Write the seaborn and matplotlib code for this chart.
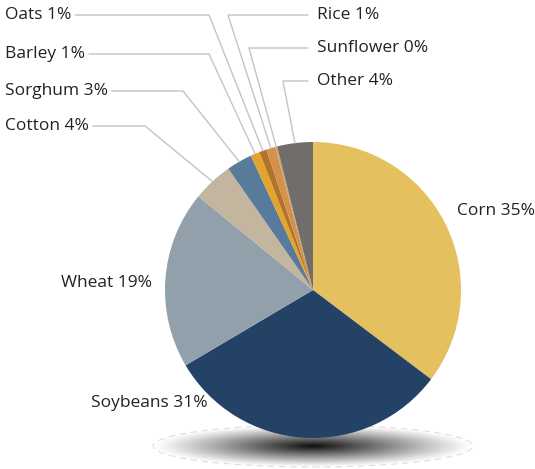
import numpy as np
import seaborn as sns
from matplotlib import pyplot as plt
from matplotlib.patches import Ellipse

# crop shares (percent), clockwise from 12 o'clock
crops = ['Corn', 'Soybeans', 'Wheat', 'Cotton', 'Sorghum', 'Barley', 'Oats', 'Rice', 'Sunflower', 'Other']
shares = [35.3, 31.2, 19.4, 4.4, 2.8, 1.0, 0.8, 1.0, 0.2, 3.9]
colors = ['#e4c15e', '#234266', '#91a0ab', '#c4b59f', '#587b9b',
          '#e3a42c', '#b27229', '#d4914c', '#c9a36a', '#716d6b']

sns.set_theme(style='white')
plt.rcParams['font.family'] = ['Open Sans', 'DejaVu Sans']

W, H = 535, 469
fig = plt.figure(figsize=(W / 100, H / 100), dpi=100)
ax = fig.add_axes([0, 0, 1, 1])


def py(y):
    # pixel row -> data y
    return H - y


cx, cy, R = 313, 290, 148

# soft shadow under the pie
sx0, sx1, sy0, sy1 = 153, 473, 425, 467
gx, gy = np.meshgrid(np.linspace(-1, 1, 400), np.linspace(-1, 1, 80))
r = np.sqrt(gx ** 2 + gy ** 2)
alpha = np.clip(1 - r, 0, 1) ** 1.1 * 0.95
img = np.zeros(gx.shape + (4,))
img[..., 3] = alpha
ax.imshow(img, extent=(sx0, sx1, py(sy1), py(sy0)), origin='lower',
          aspect='auto', zorder=0, interpolation='bilinear')
ax.add_patch(Ellipse(((sx0 + sx1) / 2, py((sy0 + sy1) / 2)), sx1 - sx0, sy1 - sy0,
                     fill=False, ec='#dedede', lw=0.8, ls=(0, (6, 4)), zorder=0))

ax.pie(shares, colors=colors, startangle=90, counterclock=False,
       center=(cx, py(cy)), radius=R, wedgeprops=dict(linewidth=0), frame=False)

ax.set_xlim(0, W)
ax.set_ylim(0, H)
ax.set_aspect('equal')
ax.axis('off')

labels = [f'{c} {v:.0f}%' for c, v in zip(crops, shares)]
total = sum(shares)
cum = np.cumsum([0] + shares[:-1])
mid = np.deg2rad(90 - 360 * (cum + np.array(shares) / 2) / total)

txt_kw = dict(fontsize=12.5, color='#222222', va='center')
line_kw = dict(color='#c4c4c4', lw=1, zorder=3)

# labels without connectors
plain = {'Corn': (457, 211, 'left'), 'Soybeans': (208, 403, 'right'),
         'Wheat': (152, 283, 'right')}
# left side: text y, elbow x
left = {'Oats': (15, 209), 'Barley': (54, 209), 'Sorghum': (91, 183), 'Cotton': (126, 145)}
# right side: text y, elbow x
right = {'Rice': (15, 228), 'Sunflower': (48, 249), 'Other': (81, 283)}

fig.canvas.draw()
renderer = fig.canvas.get_renderer()
inv = ax.transData.inverted()
for i, c in enumerate(crops):
    ex = cx + R * np.cos(mid[i])
    ey = py(cy) + R * np.sin(mid[i])
    if c in plain:
        x, y, ha = plain[c]
        ax.text(x, py(y), labels[i], ha=ha, **txt_kw)
    elif c in left:
        y, elb = left[c]
        t = ax.text(5, py(y), labels[i], ha='left', **txt_kw)
        bb = t.get_window_extent(renderer)
        x_end = inv.transform((bb.x1, bb.y0))[0] + 4
        ax.plot([x_end, elb, ex], [py(y), py(y), ey], **line_kw)
    else:
        y, elb = right[c]
        ax.text(317, py(y), labels[i], ha='left', **txt_kw)
        ax.plot([308, elb, ex], [py(y), py(y), ey], **line_kw)

fig.savefig('out.png', dpi=100, facecolor='white')
